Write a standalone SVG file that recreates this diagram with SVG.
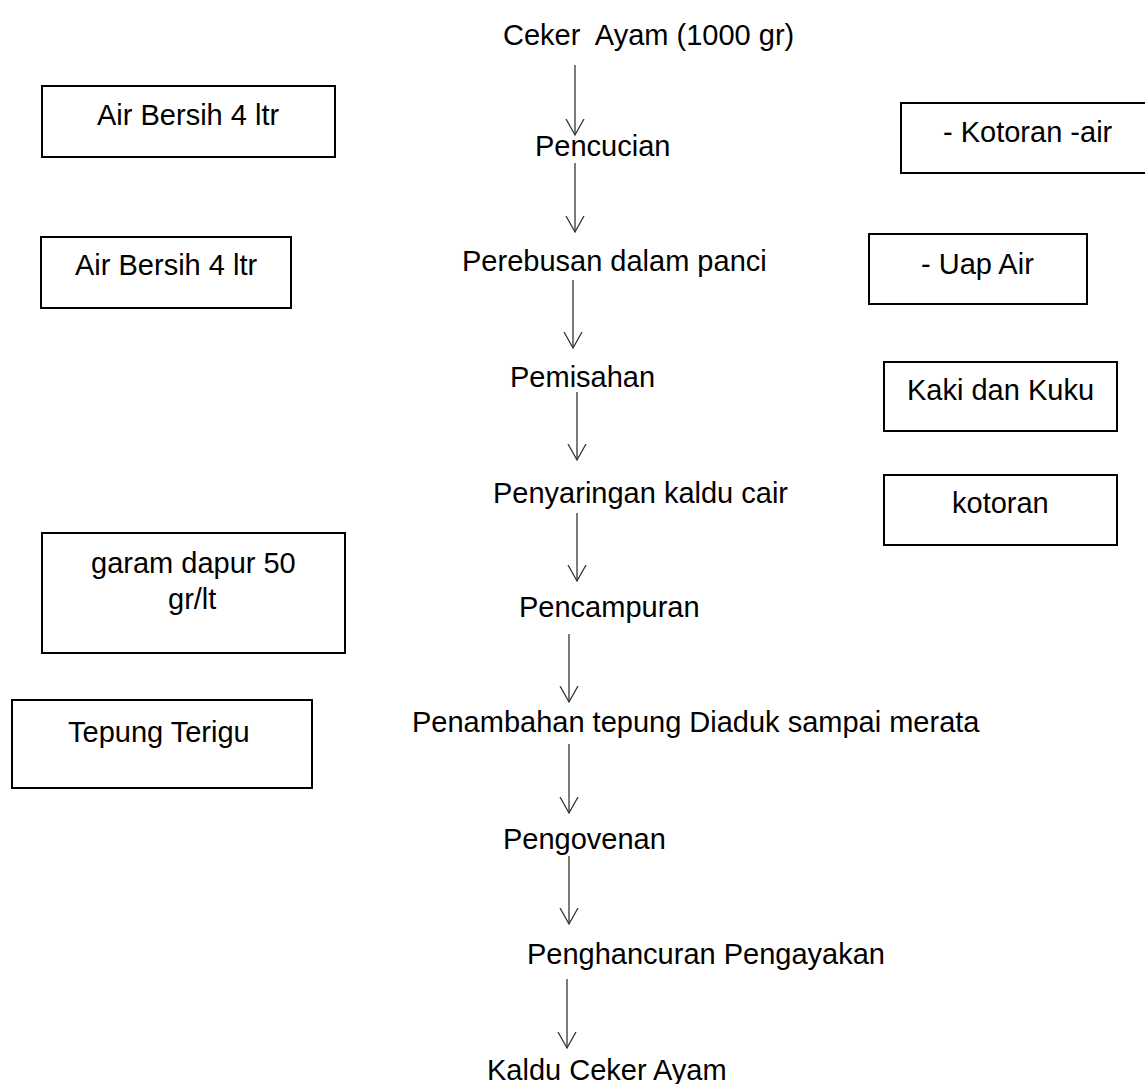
<svg xmlns="http://www.w3.org/2000/svg" width="1145" height="1084" viewBox="0 0 1145 1084">
<defs>
<style>
text{font-family:"Liberation Sans",Arial,sans-serif;font-size:29px;fill:#000}
.pre{white-space:pre}
.box{fill:#fff;stroke:#000;stroke-width:2}
.arr{stroke:#333;stroke-width:1.3;fill:none;marker-end:url(#v)}
</style>
<marker id="v" viewBox="0 0 20 20" refX="16" refY="10" markerWidth="20" markerHeight="20" markerUnits="userSpaceOnUse" orient="auto">
<path d="M0,1 L16,10 L0,19" fill="none" stroke="#333" stroke-width="1.3"/>
</marker>
</defs>
<rect width="1145" height="1084" fill="#fff"/>
<g id="connectors">
<path class="arr" d="M575,65 V135"/>
<path class="arr" d="M575,163 V232"/>
<path class="arr" d="M573,280 V348"/>
<path class="arr" d="M577,392 V460"/>
<path class="arr" d="M577,513 V581"/>
<path class="arr" d="M569,634 V702"/>
<path class="arr" d="M569,744 V813"/>
<path class="arr" d="M569,856 V924"/>
<path class="arr" d="M567,979 V1048"/>
</g>
<g id="n-ceker"><text class="pre" xml:space="preserve" x="503" y="45">Ceker  Ayam (1000 gr)</text></g>
<g id="n-pencucian"><text x="535" y="156">Pencucian</text></g>
<g id="n-perebusan"><text x="462" y="271">Perebusan dalam panci</text></g>
<g id="n-pemisahan"><text x="510" y="387">Pemisahan</text></g>
<g id="n-penyaringan"><text x="493" y="503">Penyaringan kaldu cair</text></g>
<g id="n-pencampuran"><text x="519" y="617">Pencampuran</text></g>
<g id="n-penambahan"><text x="412" y="732">Penambahan tepung Diaduk sampai merata</text></g>
<g id="n-pengovenan"><text x="503" y="849">Pengovenan</text></g>
<g id="n-penghancuran"><text x="527" y="964">Penghancuran Pengayakan</text></g>
<g id="n-kaldu"><text x="487" y="1080">Kaldu Ceker Ayam</text></g>
<g id="b-air1"><rect class="box" x="42" y="86" width="293" height="71"/><text x="97" y="125">Air Bersih 4 ltr</text></g>
<g id="b-air2"><rect class="box" x="41" y="237" width="250" height="71"/><text x="75" y="275">Air Bersih 4 ltr</text></g>
<g id="b-garam"><rect class="box" x="42" y="533" width="303" height="120"/><text x="91" y="573">garam dapur 50</text><text x="168" y="609">gr/lt</text></g>
<g id="b-tepung"><rect class="box" x="12" y="700" width="300" height="88"/><text x="68" y="742">Tepung Terigu</text></g>
<g id="b-kotoran-air"><rect class="box" x="901" y="103" width="260" height="70"/><text x="943" y="142">- Kotoran -air</text></g>
<g id="b-uap"><rect class="box" x="869" y="234" width="218" height="70"/><text x="921" y="274">- Uap Air</text></g>
<g id="b-kaki"><rect class="box" x="884" y="362" width="233" height="69"/><text x="907" y="400">Kaki dan Kuku</text></g>
<g id="b-kotoran"><rect class="box" x="884" y="475" width="233" height="70"/><text x="952" y="513">kotoran</text></g>
</svg>
